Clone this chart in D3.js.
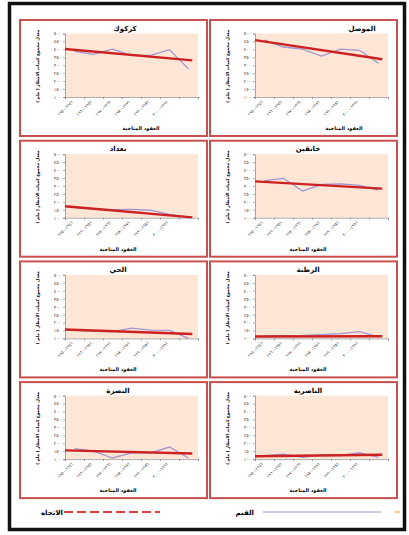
<!DOCTYPE html>
<html>
<head>
<meta charset="utf-8">
<script src="https://cdn.jsdelivr.net/npm/d3@7"></script>
<style>
  body { margin: 0; background: #fff; }
  svg { display: block; }
  text { font-family: "DejaVu Sans", sans-serif; }
</style>
</head>
<body>
<div id="chart"></div>
<script>
// decades on the x axis (7th category has no label)
var decades = ["١٩٤١-١٩٥٠", "١٩٥١-١٩٦٠", "١٩٦١-١٩٧٠", "١٩٧١-١٩٨٠", "١٩٨١-١٩٩٠", "١٩٩١-٢٠٠٠", ""];
var yTicks = [100, 150, 200, 250, 300, 350, 400, 450, 500];

// station names, in reading order (right to left, top to bottom)
var stations = ["الموصل", "كركوك", "خانقين", "بغداد", "الرطبة", "الحي", "الناصرية", "البصرة"];

// mean annual rainfall (mm) for each decade
var mosulValues    = [459, 415, 402, 358, 402, 394, 313];
var kirkukValues   = [388, 368, 402, 362, 362, 398, 277];
var khanaqinValues = [333, 348, 268, 309, 313, 303, 273];
var baghdadValues  = [164, 155, 151, 153, 147, 121, 104];
var rutbaValues    = [117, 117, 119, 124, 130, 143, 109];
var haiValues      = [150, 145, 143, 165, 152, 150, 100];
var nasiriyaValues = [122, 131, 111, 127, 122, 140, 111];
var basraValues    = [166, 150, 107, 139, 139, 176, 107];

// trend line, value at its start and at its end
var trendStart = [458, 402, 329, 172, 112, 156, 118, 155];
var trendEnd   = [338, 331, 283, 102, 114, 128, 127, 135];

var seriesValues = [mosulValues, kirkukValues, khanaqinValues, baghdadValues,
                    rutbaValues, haiValues, nasiriyaValues, basraValues];

var legendLabels = ["الاتجاه", "القيم"];

var yTitle = "معدل مجموع كميات الامطار ( ملم )";
var xTitle = "العقود المناخية";

// helpful variables
var W = 409, H = 535,
    panel_w = 187, panel_h = 116,
    plot_l = 45, plot_r = 178, plot_t = 13.5, plot_b = 77,
    red = "#cc2222", lilac = "#a396cf", frame = "#c8504e", peach = "#fde6d6";

function toArabic(n) {
    return String(n).replace(/\d/g, function(d) { return "٠١٢٣٤٥٦٧٨٩"[d]; });
}

var svg = d3.select("#chart").append("svg")
    .attr("width", W)
    .attr("height", H);

// outer black frame
svg.append("rect")
    .attr("x", 9.5).attr("y", 3.5)
    .attr("width", 395).attr("height", 526)
    .attr("fill", "none")
    .attr("stroke", "#111")
    .attr("stroke-width", 3.5);

var x = d3.scaleBand().domain(d3.range(decades.length)).range([plot_l, plot_r]);
// same axis, as a continuous position (band centres at integers)
var xc = d3.scaleLinear().domain([-0.5, decades.length - 0.5]).range([plot_l, plot_r]);
var y = d3.scaleLinear().domain([100, 500]).range([plot_b, plot_t]);

var line = d3.line()
    .x(function(d, i) { return xc(i); })
    .y(function(d) { return y(d); });

stations.forEach(function(name, i) {
    var col = i % 2, row = Math.floor(i / 2);
    var x0 = col === 0 ? 210 : 20,
        y0 = 20 + row * 120.7;
    // top row titles sit a bit further right
    var title_x = i === 0 ? 152 : (i === 1 ? 105 : 98),
        xtitle_x = i === 0 ? 134 : (i === 1 ? 121 : 98);

    var g = svg.append("g").attr("transform", "translate(" + x0 + "," + y0 + ")");

    g.append("rect")
        .attr("x", 0).attr("y", 0)
        .attr("width", panel_w).attr("height", panel_h)
        .attr("fill", "#fff")
        .attr("stroke", frame)
        .attr("stroke-width", 2);

    g.append("rect")
        .attr("x", plot_l).attr("y", plot_t)
        .attr("width", plot_r - plot_l).attr("height", plot_b - plot_t)
        .attr("fill", peach);

    // y axis
    var ya = g.append("g")
        .attr("transform", "translate(" + plot_l + ",0)")
        .call(d3.axisLeft(y).tickValues(yTicks).tickSize(2).tickPadding(2).tickFormat(toArabic));
    ya.selectAll("text").style("font-size", "4.5px").attr("fill", "#333");
    ya.selectAll("line, path").attr("stroke", "#777").attr("stroke-width", 0.6);

    // x axis, ticks between the decades
    var xa = g.append("g")
        .attr("transform", "translate(0," + plot_b + ")")
        .call(d3.axisBottom(xc).tickValues(d3.range(-0.5, decades.length, 1)).tickSize(2).tickFormat(""));
    xa.selectAll("line, path").attr("stroke", "#777").attr("stroke-width", 0.6);

    g.selectAll(".dec")
        .data(decades)
        .enter().append("text")
        .attr("class", "dec")
        .attr("transform", function(d, j) {
            return "translate(" + (x(j) + x.bandwidth() / 2 - 1) + "," + (plot_b + 5) + ") rotate(-45)";
        })
        .attr("text-anchor", "end")
        .style("font-size", "4.3px")
        .attr("fill", "#333")
        .text(function(d) { return d; });

    // values
    g.append("path")
        .datum(seriesValues[i])
        .attr("d", line)
        .attr("fill", "none")
        .attr("stroke", lilac)
        .attr("stroke-width", 1.3);

    // trend
    g.append("line")
        .attr("x1", xc(-0.5)).attr("y1", y(trendStart[i]))
        .attr("x2", xc(6.2)).attr("y2", y(trendEnd[i]))
        .attr("stroke", red)
        .attr("stroke-width", 2.4);

    // titles
    g.append("text")
        .attr("x", title_x).attr("y", 10.5)
        .attr("text-anchor", "middle")
        .style("font-size", "7px")
        .style("font-weight", "bold")
        .text(name);

    g.append("text")
        .attr("transform", "translate(18.5," + ((plot_t + plot_b) / 2 + 1) + ") rotate(-90)")
        .attr("text-anchor", "middle")
        .style("font-size", "4.2px")
        .style("font-weight", "bold")
        .text(yTitle);

    g.append("text")
        .attr("x", xtitle_x).attr("y", 110)
        .attr("text-anchor", "middle")
        .style("font-size", "5px")
        .style("font-weight", "bold")
        .text(xTitle);
});

// legend
var lg = svg.append("g").attr("transform", "translate(0,512)");
lg.append("text")
    .attr("x", 63).attr("y", 2.5)
    .attr("text-anchor", "end")
    .style("font-size", "7px")
    .style("font-weight", "bold")
    .text(legendLabels[0]);
lg.append("line")
    .attr("x1", 64).attr("x2", 160)
    .attr("stroke", "#d9413f")
    .attr("stroke-width", 2)
    .attr("stroke-dasharray", "9,4");
lg.append("text")
    .attr("x", 254).attr("y", 2.5)
    .attr("text-anchor", "end")
    .style("font-size", "7px")
    .style("font-weight", "bold")
    .text(legendLabels[1]);
lg.append("line")
    .attr("x1", 263).attr("x2", 381)
    .attr("stroke", lilac)
    .attr("stroke-width", 1);
lg.append("line")
    .attr("x1", 395).attr("x2", 400)
    .attr("stroke", "#f0a040")
    .attr("stroke-width", 1.2);
</script>
</body>
</html>
